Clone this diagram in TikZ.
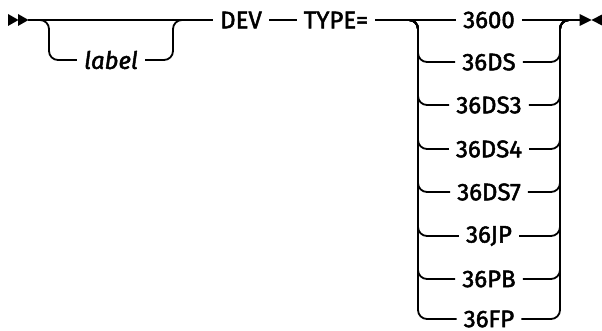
\documentclass[tikz,border=0pt]{standalone}
\usepackage{fontspec}
\setmainfont{Fira Sans}[FakeBold=2]
\usetikzlibrary{calc}
\begin{document}
\begin{tikzpicture}[x=1pt,y=-1pt,
  rail/.style={line width=1.8pt},
  rc/.style={rail,rounded corners=9pt},
  word/.style={font=\fontsize{24}{26}\selectfont, inner xsep=7pt, inner ysep=0pt, anchor=center},
  marker/.style={fill=black, draw=none}]
\useasboundingbox (0,0) rectangle (602,331);
% start marker
\coordinate (s) at (8,20);
\coordinate (m0) at (28,20);
\fill[marker] (8,14) -- (18.5,20) -- (8,26) -- cycle;
\fill[marker] (18,14) -- (28.5,20) -- (18,26) -- cycle;
% main words
\node[word] (dev) at (241,20) {DEV};
\node[word] (type) at (336,20) {TYPE=};
\draw[rail] (m0) -- (dev.west);
\draw[rail] (dev.east) -- (type.west);
% optional label
\coordinate (j1) at (49,20);
\coordinate (j2) at (173,20);
\node[word, font=\fontsize{24}{26}\selectfont\itshape] (lab) at (111,60) {label};
\draw[rc] ($(j1)+(-12,0)$) -- (j1) |- (lab.west);
\draw[rc] (lab.east) -| (j2) -- ($(j2)+(12,0)$);
% choices
\coordinate (L) at (418,20);
\coordinate (R) at (560,20);
\coordinate (e) at (580,20);
\node[word] (o0) at (489,20) {3600};
\node[word] (o1) at (489,62) {36DS};
\node[word] (o2) at (489,105) {36DS3};
\node[word] (o3) at (489,149) {36DS4};
\node[word] (o4) at (489,192) {36DS7};
\node[word] (o5) at (489,236) {36JP};
\node[word] (o6) at (489,279) {36PB};
\node[word] (o7) at (489,319) {36FP};
\draw[rail] (type.east) -- (o0.west);
\draw[rail] (o0.east) -- (e);
\foreach \k in {1,...,7}{
  \draw[rc] ($(L)+(-12,0)$) -- (L) |- (o\k.west);
  \draw[rc] (o\k.east) -| (R) -- ($(R)+(12,0)$);
}
% end marker
\fill[marker] (579.5,14) -- (591.5,20) -- (579.5,26) -- cycle;
\fill[marker] (603,14) -- (591.5,20) -- (603,26) -- cycle;
\end{tikzpicture}
\end{document}
